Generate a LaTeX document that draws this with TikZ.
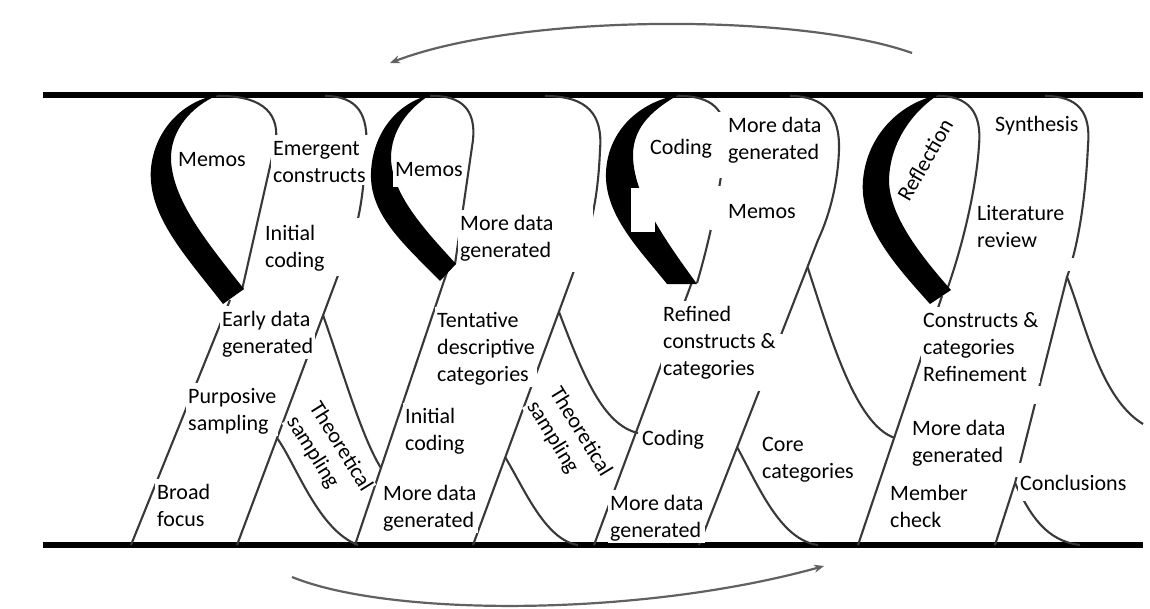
\documentclass[tikz,border=0pt]{standalone}
\usepackage{fontspec}
\setmainfont{Carlito}
\usetikzlibrary{arrows.meta}
\begin{document}
\begin{tikzpicture}[x=1pt,y=-1pt,
  wire/.style={draw=black!78, line width=2.1pt, line join=round},
  rail/.style={draw=black, line width=6pt},
  flow/.style={draw=black!62, line width=2.2pt, -{Stealth[length=10pt,width=8pt]}},
  band/.style={fill=black},
  mask/.style={fill=white, draw=none},
  lbl/.style={font=\fontsize{22}{26.7}\selectfont, align=left, anchor=north west, fill=white, inner sep=2pt},
  rlbl/.style={font=\fontsize{22}{26.7}\selectfont, align=left, fill=white, inner sep=1pt}]
\useasboundingbox (0,0) rectangle (1150,608);

% rails
\draw[rail] (43,95) -- (1143,95);
\draw[rail] (43,545) -- (1143,545);

% ---------- unit 1
\draw[wire] (131,545) -- (230,300);
\draw[wire] (216,96) .. controls (258,95) and (279,110) .. (276,140) -- (242,290);
\draw[wire] (325,96) .. controls (358,96) and (369,115) .. (366,150) .. controls (364,185) and (361,210) .. (355,230) -- (237,545);
\coordinate (J1) at (323,315);
\coordinate (P1) at (277,438);
\draw[wire] (J1) .. controls (343,372) and (362,438) .. (381,468);
\draw[wire] (P1) .. controls (296,464) and (318,530) .. (358,545);
\fill[band] (223,304) .. controls (185,255) and (147,215) .. (151,168) .. controls (155,128) and (185,100) .. (218,95)
  .. controls (192,106) and (170,130) .. (171,160) .. controls (173,200) and (205,240) .. (244,289) -- cycle;

% ---------- unit 2
\draw[wire] (355,545) -- (447,272);
\draw[wire] (430,96) .. controls (462,95) and (476,110) .. (473,140) -- (455,264);
\draw[wire] (545,96) .. controls (588,96) and (603,115) .. (600,150) .. controls (598,200) and (590,235) .. (575,268) -- (473,545);
\coordinate (J2) at (559,312);
\coordinate (P2) at (505,457);
\draw[wire] (J2) .. controls (583,375) and (603,425) .. (638,433);
\draw[wire] (P2) .. controls (524,488) and (545,540) .. (578,545);
\fill[band] (440,281) .. controls (405,245) and (369,215) .. (371,172) .. controls (373,130) and (400,102) .. (430,95)
  .. controls (409,108) and (391,130) .. (391,158) .. controls (392,195) and (425,230) .. (456,264) -- cycle;

% ---------- unit 3
\draw[wire] (594,545) -- (692,282);
\draw[wire] (676,96) .. controls (712,95) and (727,110) .. (725,140) .. controls (723,175) and (712,232) .. (697,283);
\draw[wire] (790,96) .. controls (825,96) and (840,115) .. (839,150) .. controls (838,180) and (831,212) .. (818,240) -- (699,545);
\coordinate (J3) at (807.5,267);
\coordinate (P3) at (737,447);
\draw[wire] (J3) .. controls (830,335) and (855,425) .. (895,438);
\draw[wire] (P3) .. controls (758,485) and (780,540) .. (818,545);
\fill[band] (667,284) .. controls (640,250) and (604,215) .. (606,172) .. controls (608,130) and (640,102) .. (678,95)
  .. controls (656,108) and (633,125) .. (633,155) .. controls (633,195) and (665,240) .. (697,284) -- cycle;

% ---------- unit 4
\draw[wire] (858,545) -- (942,296);
\draw[wire] (936,96) .. controls (968,95) and (982,112) .. (979,145) .. controls (977,180) and (966,235) .. (948,287);
\coordinate (J4) at (1067,277);
\coordinate (P4) at (1015,483);
\draw[wire] (1045,96) .. controls (1078,96) and (1091,112) .. (1088,145) .. controls (1086,190) and (1080,240) .. (J4) -- (P4) -- (995,545);
\draw[wire] (J4) .. controls (1085,322) and (1100,398) .. (1143,424);
\draw[wire] (P4) .. controls (1030,515) and (1046,541) .. (1080,545);
\fill[band] (930,304) .. controls (895,265) and (859,225) .. (863,180) .. controls (867,135) and (900,103) .. (938,95)
  .. controls (915,110) and (890,140) .. (889,180) .. controls (889,215) and (920,255) .. (951,290) -- cycle;

% white patches of the original
\fill[mask] (262,218) rectangle (361,276);
\fill[mask] (478,198) rectangle (593,272);
\fill[mask] (717,112) rectangle (824,178);
\fill[mask] (710,186) rectangle (796,230);
\fill[mask] (631,188) rectangle (655,232);
\fill[mask] (755,334) rectangle (786,391);
\fill[mask] (1062,258) rectangle (1082,271);
\fill[mask] (1028,386) rectangle (1048,404);
\fill[mask] (1010,463) rectangle (1026,477);

% cycle arrows
\coordinate (ta) at (912,53);
\coordinate (tb) at (390,63);
\coordinate (ba) at (292,577);
\coordinate (bb) at (824,566);
\draw[flow] (ta) .. controls (800,13) and (520,13) .. (tb);
\draw[flow] (ba) .. controls (390,617) and (640,617) .. (bb);

% labels
\node[lbl] (memosA) at (176,146) {\strut Memos};
\node[lbl] (emergent) at (271,135) {\strut Emergent\\constructs};
\node[lbl] (initA) at (263,220) {\strut Initial\\coding};
\node[lbl] (early) at (220,306) {\strut Early data\\generated};
\node[lbl] (purposive) at (186,383) {\strut Purposive\\sampling};
\node[lbl] (broad) at (155,479) {\strut Broad\\focus};
\node[lbl] (memosB) at (393,156) {\strut Memos};
\node[lbl] (moreB1) at (458,210) {\strut More data\\generated};
\node[lbl] (tentative) at (435,307) {\strut Tentative\\descriptive\\categories};
\node[lbl] (initB) at (403,403) {\strut Initial\\coding};
\node[lbl] (moreB2) at (381,480) {\strut More data\\generated};
\node[lbl] (codingC1) at (648,134) {\strut Coding};
\node[lbl] (moreC1) at (726,112) {\strut More data\\generated};
\node[lbl] (memosC) at (726,198) {\strut Memos};
\node[lbl] (refined) at (661,301) {\strut Refined\\constructs \&\\categories};
\node[lbl] (codingC2) at (640,425) {\strut Coding};
\node[lbl] (moreC2) at (608,490) {\strut More data\\generated};
\node[lbl] (core) at (760,431) {\strut Core\\categories};
\node[lbl] (synthesis) at (993,111) {\strut Synthesis};
\node[lbl] (literature) at (975,200) {\strut Literature\\review};
\node[lbl] (constructs) at (921,307) {\strut Constructs \&\\categories\\Refinement};
\node[lbl] (moreD) at (910,415) {\strut More data\\generated};
\node[lbl] (member) at (888,480) {\strut Member\\check};
\node[lbl] (conclusions) at (1018,470) {\strut Conclusions};
\node[rlbl, rotate=-58] (theoA) at (329,454) {Theoretical\\sampling};
\node[rlbl, rotate=-58.5] (theoB) at (569,439) {Theoretical\\sampling};
\node[rlbl, rotate=60] (reflection) at (925,160) {Reflection};
\end{tikzpicture}
\end{document}
